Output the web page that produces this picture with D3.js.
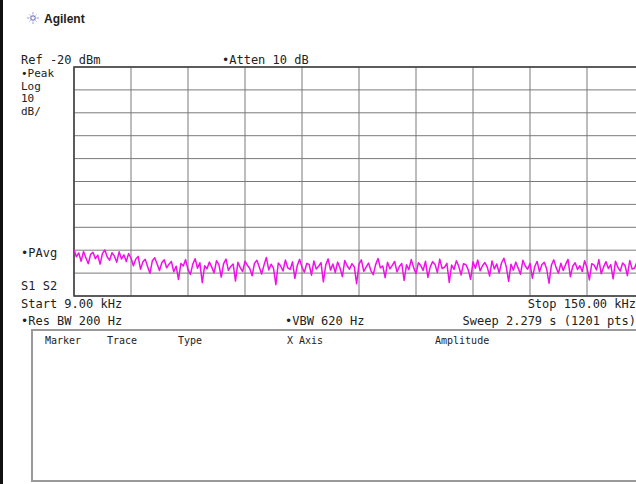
<!DOCTYPE html>
<html><head><meta charset="utf-8">
<script src="https://cdn.jsdelivr.net/npm/d3@7"></script>
<style>
html,body{margin:0;padding:0;background:#fff;overflow:hidden}
text{font-family:"DejaVu Sans Mono","Liberation Mono",monospace;fill:#222}
</style></head>
<body>
<svg id="c" width="636" height="484"></svg>
<script>
// ---- data ----
const startKHz = 9.0, stopKHz = 150.0;
const refLevel = -20, dbPerDiv = 10, numDiv = 10;
const sweepPoints = 1201;
const headerLabels = ["Marker","Trace","Type","X Axis","Amplitude"];
// averaged trace amplitude, dBm (left to right)
const traceDbm = [
-99.8,-102.9,-101.2,-104.8,-100.6,-103.3,-105.9,-101.8,-100.9,-103.7,
-102.2,-106.1,-101.4,-99.9,-103.0,-104.4,-101.1,-102.6,-105.2,-100.7,
-103.8,-102.0,-104.9,-101.5,-103.4,
-106.8,-103.9,-102.7,-108.3,-105.1,-104.0,-107.2,-110.1,-104.6,-103.3,
-106.0,-108.9,-105.4,-104.2,-107.7,-106.1,
-104.9,-109.4,-107.0,-112.8,-105.8,-106.9,-104.1,-108.5,-110.6,-106.2,
-103.7,-107.9,-105.5,-114.2,-106.8,-108.1,-105.2,-107.4,-109.9,-104.6,
-106.3,-111.7,-105.9,-103.9,-108.8,-107.1,-106.0,-113.5,-105.3,-107.6,
-109.3,-104.8,-106.6,-108.0,-111.2,-105.7,-104.4,-107.3,-110.4,-106.5,
-103.2,-108.6,-106.1,-107.9,-115.0,-105.6,-106.9,-109.1,-104.3,-107.7,
-108.4,-105.1,-112.3,-106.7,-104.0,-107.5,-109.6,-105.8,-106.2,-110.9,
-104.7,-108.2,-107.0,-105.4,-113.8,-106.4,-103.8,-108.7,-106.0,-109.8,
-105.2,-107.8,-111.5,-104.5,-106.8,-108.3,-105.9,-107.2,-114.6,-106.1,
-104.2,-109.2,-107.4,-105.6,-108.9,-110.7,-106.3,-103.6,-107.7,-106.9,
-112.0,-105.3,-108.1,-106.6,-104.9,-109.5,-107.1,-105.8,-113.2,-106.4,
-108.5,-104.1,-107.6,-110.2,-105.5,-106.7,-108.8,-104.8,-111.9,-107.3,
-105.0,-106.2,-109.7,-103.9,-108.0,-107.5,-105.7,-114.1,-106.5,-108.4,
-104.6,-107.0,-110.8,-105.9,-106.3,-108.6,-112.7,-105.1,-107.9,-104.3,
-109.0,-106.8,-105.4,-107.4,-111.3,-104.7,-108.2,-106.0,-109.9,-105.6,
-103.5,-107.2,-113.6,-106.1,-108.7,-105.2,-107.8,-110.5,-104.4,-106.9,
-108.3,-105.8,-112.2,-107.1,-104.9,-109.4,-106.4,-105.3,-108.1,-114.4,
-106.6,-104.2,-107.6,-110.0,-105.7,-108.9,-106.2,-104.0,-111.6,-107.0,
-105.5,-108.4,-106.8,-109.3,-104.6,-107.7,-113.0,-105.9,-106.5,-108.6,
-104.1,-110.3,-107.3,-105.0,-108.0,-106.3,-112.5,-104.8,-107.5,-109.1,
-105.6,-106.7,-111.1,-104.5,-108.2,-107.9,-105.2,-110.6,-106.0,-108.8
];

// ---- layout ----
const svg = d3.select("#c");
const P = {l:74, t:67, w:570, h:229};
const x = d3.scaleLinear().domain([startKHz, stopKHz]).range([P.l, P.l + P.w]);
const y = d3.scaleLinear().domain([refLevel - dbPerDiv*numDiv, refLevel]).range([P.t + P.h, P.t]);
const idx = d3.scaleLinear().domain([0, traceDbm.length - 1]).range([startKHz, stopKHz]);

// left black bar
svg.append("rect").attr("x",0).attr("y",0).attr("width",3).attr("height",484).attr("fill","#111");

// Agilent logo
const logo = svg.append("g").attr("transform","translate(33,18)");
logo.append("circle").attr("r",2.2).attr("fill","none").attr("stroke","#7e7ec8").attr("stroke-width",1.2);
for (let a=0;a<8;a++){const r=a*Math.PI/4;logo.append("line").attr("x1",Math.cos(r)*3.5).attr("y1",Math.sin(r)*3.5).attr("x2",Math.cos(r)*(a%2?5:6)).attr("y2",Math.sin(r)*(a%2?5:6)).attr("stroke","#9a9ad8").attr("stroke-width",1);}
svg.append("text").attr("x",44).attr("y",23).style("font-family","'Liberation Sans',Arial,sans-serif").style("font-weight","bold").style("font-size","12px").text("Agilent");

// header texts
const T = (xx,yy,s,anchor,fs) => svg.append("text").attr("x",xx).attr("y",yy).attr("text-anchor",anchor||"start").style("font-size",(fs||12)+"px").text(s);
T(21,64,"Ref -20 dBm");
T(222,64,"\u2022Atten 10 dB");
T(21,77,"\u2022Peak",null,11);
T(21,89.5,"Log",null,11);
T(21,102,"10",null,11);
T(21,114.5,"dB/",null,11);
T(21,257,"\u2022PAvg");
T(21,290,"S1  S2");
T(21,308,"Start 9.00 kHz");
T(636,308,"Stop 150.00 kHz","end");
T(21,325,"\u2022Res BW 200 Hz");
T(285,325,"\u2022VBW 620 Hz");
T(636,325,"Sweep 2.279 s (1201 pts)","end");

// grid
const g = svg.append("g");
const yLines = d3.range(0, numDiv+1).map(i => refLevel - i*dbPerDiv);
const xLines = d3.range(0, numDiv+1).map(i => startKHz + i*(stopKHz-startKHz)/numDiv);
g.selectAll(".hl").data(yLines).join("line")
  .attr("x1",P.l).attr("x2",P.l+P.w).attr("y1",d=>y(d)).attr("y2",d=>y(d))
  .attr("stroke","#7a7a7a").attr("stroke-width",1);
g.selectAll(".vl").data(xLines).join("line")
  .attr("y1",P.t).attr("y2",P.t+P.h).attr("x1",d=>x(d)).attr("x2",d=>x(d))
  .attr("stroke","#7a7a7a").attr("stroke-width",1);
g.append("rect").attr("x",P.l).attr("y",P.t).attr("width",P.w).attr("height",P.h)
  .attr("fill","none").attr("stroke","#444").attr("stroke-width",1.6);

// trace
svg.append("clipPath").attr("id","pc").append("rect").attr("x",P.l).attr("y",P.t).attr("width",P.w).attr("height",P.h);
const line = d3.line().x((d,i)=>x(idx(i))).y(d=>y(d));
svg.append("path").datum(traceDbm).attr("clip-path","url(#pc)")
  .attr("d",line).attr("fill","none").attr("stroke","#f010e8").attr("stroke-width",1.5).attr("stroke-linejoin","round");

// marker table box
svg.append("rect").attr("x",32).attr("y",330).attr("width",620).attr("height",151)
  .attr("fill","#fff").attr("stroke","#9a9a9a").attr("stroke-width",2);
const hx = [45,107,178,287,435];
svg.selectAll(".hd").data(headerLabels).join("text")
  .attr("x",(d,i)=>hx[i]).attr("y",344).style("font-size","10px").text(d=>d);
</script>
</body></html>
